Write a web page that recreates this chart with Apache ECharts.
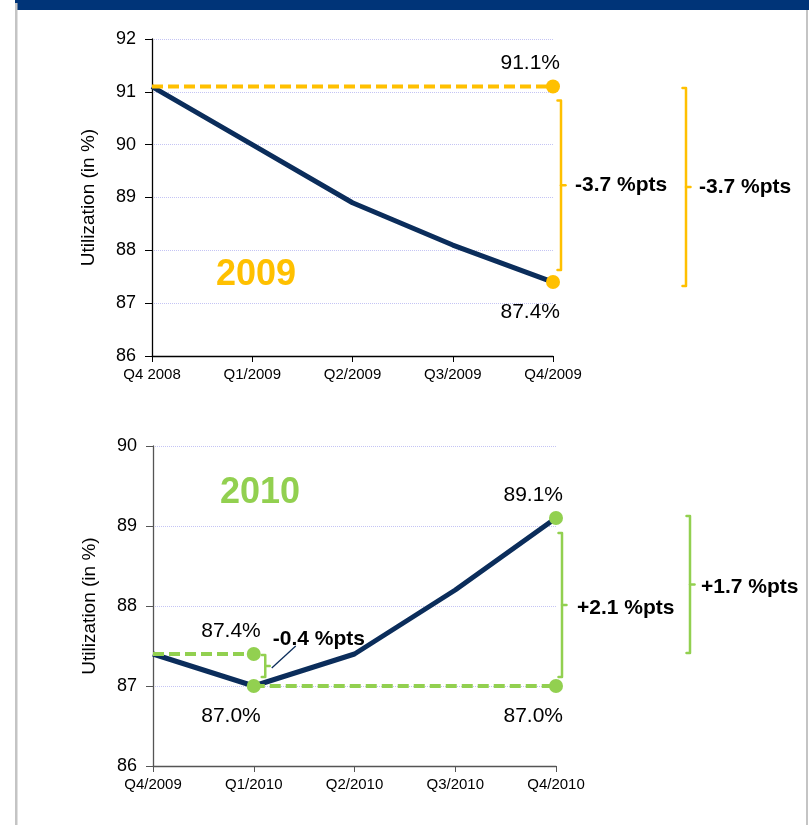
<!DOCTYPE html>
<html>
<head>
<meta charset="utf-8">
<script src="https://cdn.jsdelivr.net/npm/echarts@6/dist/echarts.min.js"></script>
<style>
  html, body { margin: 0; padding: 0; background: #fff; }
  #chart { width: 809px; height: 825px; }
</style>
</head>
<body>
<div id="chart"></div>
<script>
// ---- data ----
const quarters2009 = ['Q4 2008', 'Q1/2009', 'Q2/2009', 'Q3/2009', 'Q4/2009'];
const utilization2009 = [91.1, 90.0, 88.9, 88.1, 87.4];
const quarters2010 = ['Q4/2009', 'Q1/2010', 'Q2/2010', 'Q3/2010', 'Q4/2010'];
const utilization2010 = [87.4, 87.0, 87.4, 88.2, 89.1];

const yRange2009 = [86, 92];
const yRange2010 = [86, 90];

// highlighted points: [quarter index, utilization]
const markers2009 = [[4, 91.1], [4, 87.4]];
const markers2010 = [[1, 87.4], [1, 87.0], [4, 89.1], [4, 87.0]];

// dashed reference levels: [from quarter, to quarter, level]
const refLines2009 = [[0, 4, 91.1]];
const refLines2010 = [[0, 1, 87.4], [1, 4, 87.0]];

// change brackets: [low, high] and their captions
const deltaRanges2009 = [[87.4, 91.1], [87.4, 91.1]];
const deltaLabels2009 = ['-3.7 %pts', '-3.7 %pts'];
const deltaRanges2010 = [[87.0, 89.1], [87.4, 89.1], [87.0, 87.4]];
const deltaLabels2010 = ['+2.1 %pts', '+1.7 %pts', '-0.4 %pts'];

// ---- styling ----
const NAVY = '#0b2d5b';
const YELLOW = '#FFC000';
const GREEN = '#92D050';
const FONT = '"Liberation Sans", Arial, sans-serif';

// label side for each marker
const markerSide2009 = ['above', 'below'];
const markerSide2010 = ['above', 'below', 'above', 'below'];

// bracket placement relative to the quarter it hangs on
const bracketLayout2009 = [
  { cat: 4, dx: 8,   insetTop: 14, insetBottom: 12, gap: 14, labelDy: 0 },
  { cat: 4, dx: 133, insetTop: 1.5, insetBottom: -4, gap: 13, labelDy: 0 }
];
const bracketLayout2010 = [
  { cat: 4, dx: 6,    insetTop: 15, insetBottom: 9, gap: 15, labelDy: 3 },
  { cat: 4, dx: 134,  insetTop: -2, insetBottom: 1, gap: 11, labelDy: 3 },
  { cat: 1, dx: 11.5, insetTop: 1,  insetBottom: 9, gap: 7.5, labelDy: -27, leader: true }
];

function markerData(points, sides) {
  return points.map((p, i) => ({
    value: p,
    label: { position: sides[i] === 'above' ? [14, -16] : [14, 37] }
  }));
}

function refLineSeries(lines, color, axisIdx) {
  return lines.map(l => ({
    type: 'line',
    xAxisIndex: axisIdx, yAxisIndex: axisIdx,
    data: [[l[0], l[2]], [l[1], l[2]]],
    symbol: 'none',
    silent: true,
    z: 3,
    lineStyle: { color: color, width: 4, type: [11, 5] }
  }));
}

function bracketRenderer(layouts, labels, color) {
  return function (params, api) {
    const L = layouts[params.dataIndex];
    const lo = api.coord([api.value(0), api.value(1)]);
    const hi = api.coord([api.value(0), api.value(2)]);
    const x = lo[0] + L.dx;
    const yTop = hi[1] + L.insetTop;
    const yBot = lo[1] - L.insetBottom;
    const yMid = (yTop + yBot) / 2;
    const stroke = { stroke: color, lineWidth: 2.5, fill: null, lineJoin: 'round', lineCap: 'round' };
    const children = [
      { type: 'polyline', shape: { points: [[x - 3.5, yTop], [x, yTop], [x, yBot], [x - 3.5, yBot]] }, style: stroke },
      { type: 'line', shape: { x1: x, y1: yMid, x2: x + 4.5, y2: yMid }, style: stroke },
      {
        type: 'text',
        style: {
          text: labels[params.dataIndex],
          x: x + L.gap, y: yMid + L.labelDy,
          fontSize: 21, fontWeight: 'bold', fontFamily: FONT,
          fill: '#000', align: 'left', verticalAlign: 'middle'
        }
      }
    ];
    if (L.leader) {
      children.push({
        type: 'line',
        shape: { x1: x + 6.5, y1: yMid + 2, x2: x + 30.5, y2: yMid - 20 },
        style: { stroke: NAVY, lineWidth: 1.3 }
      });
    }
    return { type: 'group', children: children };
  };
}

function xAxisFor(cats, idx, lineColor) {
  return {
    type: 'category', gridIndex: idx, data: cats, boundaryGap: false,
    axisLine: { show: true, lineStyle: { color: lineColor, width: 1.3 } },
    axisTick: { show: true, length: 6, lineStyle: { color: lineColor } },
    axisLabel: { fontSize: 15, color: '#000', fontFamily: FONT, margin: 11 },
    splitLine: { show: false }
  };
}

function yAxisFor(range, idx, lineColor) {
  return {
    type: 'value', gridIndex: idx, min: range[0], max: range[1], interval: 1,
    name: 'Utilization (in %)', nameLocation: 'middle', nameGap: 54,
    nameTextStyle: { fontSize: 19, color: '#000', fontFamily: FONT },
    axisLine: { show: true, lineStyle: { color: lineColor, width: 1.3 } },
    axisTick: { show: true, length: 7, lineStyle: { color: lineColor } },
    axisLabel: { fontSize: 18, color: '#000', fontFamily: FONT, margin: 16 },
    splitLine: { show: true, lineStyle: { color: '#c4c4f4', width: 1, type: 'dotted' } }
  };
}

const markerLabel = {
  show: true, align: 'right', verticalAlign: 'middle',
  fontSize: 21, color: '#000', fontFamily: FONT,
  formatter: p => p.value[1].toFixed(1) + '%'
};

const chart = echarts.init(document.getElementById('chart'), null, { renderer: 'canvas' });

chart.setOption({
  animation: false,
  backgroundColor: '#fff',
  grid: [
    { left: 152, top: 39, width: 401, height: 317, outerBoundsMode: 'none' },
    { left: 153, top: 446, width: 403, height: 320, outerBoundsMode: 'none' }
  ],
  xAxis: [xAxisFor(quarters2009, 0, '#000'), xAxisFor(quarters2010, 1, '#555')],
  yAxis: [yAxisFor(yRange2009, 0, '#000'), yAxisFor(yRange2010, 1, '#555')],
  graphic: [
    { type: 'rect', shape: { x: 15, y: 0, width: 794, height: 10 }, style: { fill: '#003478' } },
    { type: 'rect', shape: { x: 15, y: 3, width: 2.5, height: 822 }, style: { fill: '#c4c4c4' } },
    { type: 'rect', shape: { x: 806, y: 10, width: 2, height: 815 }, style: { fill: '#c4c4c4' } },
    { type: 'text', x: 216, y: 275, style: { text: '2009', fontSize: 36, fontWeight: 'bold', fontFamily: FONT, fill: YELLOW, verticalAlign: 'middle' } },
    { type: 'text', x: 220, y: 493, style: { text: '2010', fontSize: 36, fontWeight: 'bold', fontFamily: FONT, fill: GREEN, verticalAlign: 'middle' } }
  ],
  series: [
    {
      type: 'line', xAxisIndex: 0, yAxisIndex: 0, data: utilization2009,
      symbol: 'none', z: 2, lineStyle: { color: NAVY, width: 5 }
    },
    ...refLineSeries(refLines2009, YELLOW, 0),
    {
      type: 'scatter', xAxisIndex: 0, yAxisIndex: 0, z: 5,
      data: markerData(markers2009, markerSide2009),
      symbolSize: 14, itemStyle: { color: YELLOW, opacity: 1 },
      label: markerLabel
    },
    {
      type: 'custom', xAxisIndex: 0, yAxisIndex: 0, z: 6, silent: true,
      data: deltaRanges2009.map((r, i) => [bracketLayout2009[i].cat, r[0], r[1]]),
      encode: { x: 0, y: [1, 2] },
      renderItem: bracketRenderer(bracketLayout2009, deltaLabels2009, YELLOW)
    },

    {
      type: 'line', xAxisIndex: 1, yAxisIndex: 1, data: utilization2010,
      symbol: 'none', z: 2, lineStyle: { color: NAVY, width: 5 }
    },
    ...refLineSeries(refLines2010, GREEN, 1),
    {
      type: 'scatter', xAxisIndex: 1, yAxisIndex: 1, z: 5,
      data: markerData(markers2010, markerSide2010),
      symbolSize: 14, itemStyle: { color: GREEN, opacity: 1 },
      label: markerLabel
    },
    {
      type: 'custom', xAxisIndex: 1, yAxisIndex: 1, z: 6, silent: true,
      data: deltaRanges2010.map((r, i) => [bracketLayout2010[i].cat, r[0], r[1]]),
      encode: { x: 0, y: [1, 2] },
      renderItem: bracketRenderer(bracketLayout2010, deltaLabels2010, GREEN)
    }
  ]
});
</script>
</body>
</html>
